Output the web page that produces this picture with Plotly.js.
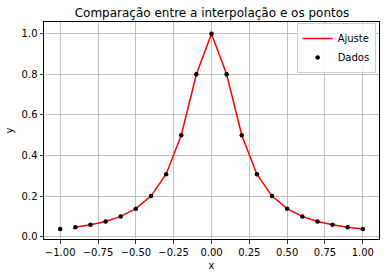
<!DOCTYPE html>
<html>
<head>
<meta charset="utf-8">
<script src="https://cdn.plot.ly/plotly-3.0.1.min.js"></script>
<style>html,body{margin:0;padding:0;background:#fff;}#chart{width:389px;height:278px;}</style>
</head>
<body>
<div id="chart"></div>
<script>
// Dados (pontos)
var dataX = [-1.0, -0.9, -0.8, -0.7, -0.6, -0.5, -0.4, -0.3, -0.2, -0.1, 0.0, 0.1, 0.2, 0.3, 0.4, 0.5, 0.6, 0.7, 0.8, 0.9, 1.0];
var dataY = [0.038, 0.047, 0.059, 0.075, 0.100, 0.138, 0.200, 0.308, 0.500, 0.800, 1.000, 0.800, 0.500, 0.308, 0.200, 0.138, 0.100, 0.075, 0.059, 0.047, 0.038];
// Ajuste (curva)
var fitX = [-0.9, -0.8, -0.7, -0.6, -0.5, -0.4, -0.3, -0.2, -0.1, 0.0, 0.1, 0.2, 0.3, 0.4, 0.5, 0.6, 0.7, 0.8, 0.9, 1.0];
var fitY = [0.047, 0.059, 0.075, 0.100, 0.138, 0.200, 0.308, 0.500, 0.800, 1.000, 0.800, 0.500, 0.308, 0.200, 0.138, 0.100, 0.075, 0.059, 0.047, 0.038];

var font = "DejaVu Sans, sans-serif";
var traces = [
  {x: fitX, y: fitY, mode: "lines", name: "Ajuste", line: {color: "#ff0000", width: 1.5}},
  {x: dataX, y: dataY, mode: "markers", name: "Dados", marker: {color: "#000000", size: 4.5}}
];
var axisCommon = {
  showline: true, mirror: true, linecolor: "#000", linewidth: 1,
  showgrid: true, gridcolor: "#b0b0b0", gridwidth: 0.8,
  zeroline: false,
  ticks: "outside", ticklen: 3.5, tickcolor: "#000", tickwidth: 0.8,
  tickfont: {family: font, size: 10, color: "#000"}
};
var layout = {
  width: 389, height: 278,
  margin: {l: 44, r: 10, t: 22, b: 39},
  paper_bgcolor: "#fff", plot_bgcolor: "#fff",
  font: {family: font, color: "#000"},
  title: {text: "Comparação entre a interpolação e os pontos", font: {family: font, size: 12, color: "#000"}, x: 0.545, xanchor: "center", y: 0.953, yanchor: "middle"},
  xaxis: Object.assign({}, axisCommon, {
    range: [-1.107, 1.107], tick0: 0, dtick: 0.25, tickformat: ".2f",
    title: {text: "x", font: {family: font, size: 10, color: "#000"}, standoff: 5}
  }),
  yaxis: Object.assign({}, axisCommon, {
    range: [-0.0113, 1.0576], tick0: 0, dtick: 0.2, tickformat: ".1f",
    title: {text: "y", font: {family: font, size: 10, color: "#000"}, standoff: 6}
  }),
  showlegend: true,
  legend: {
    x: 0.99, xanchor: "right", y: 0.995, yanchor: "top",
    bgcolor: "rgba(255,255,255,0.8)", bordercolor: "#cccccc", borderwidth: 1,
    font: {family: font, size: 10, color: "#000"},
    tracegroupgap: 0, itemwidth: 30
  }
};
Plotly.newPlot("chart", traces, layout, {displayModeBar: false, staticPlot: true});
</script>
</body>
</html>
